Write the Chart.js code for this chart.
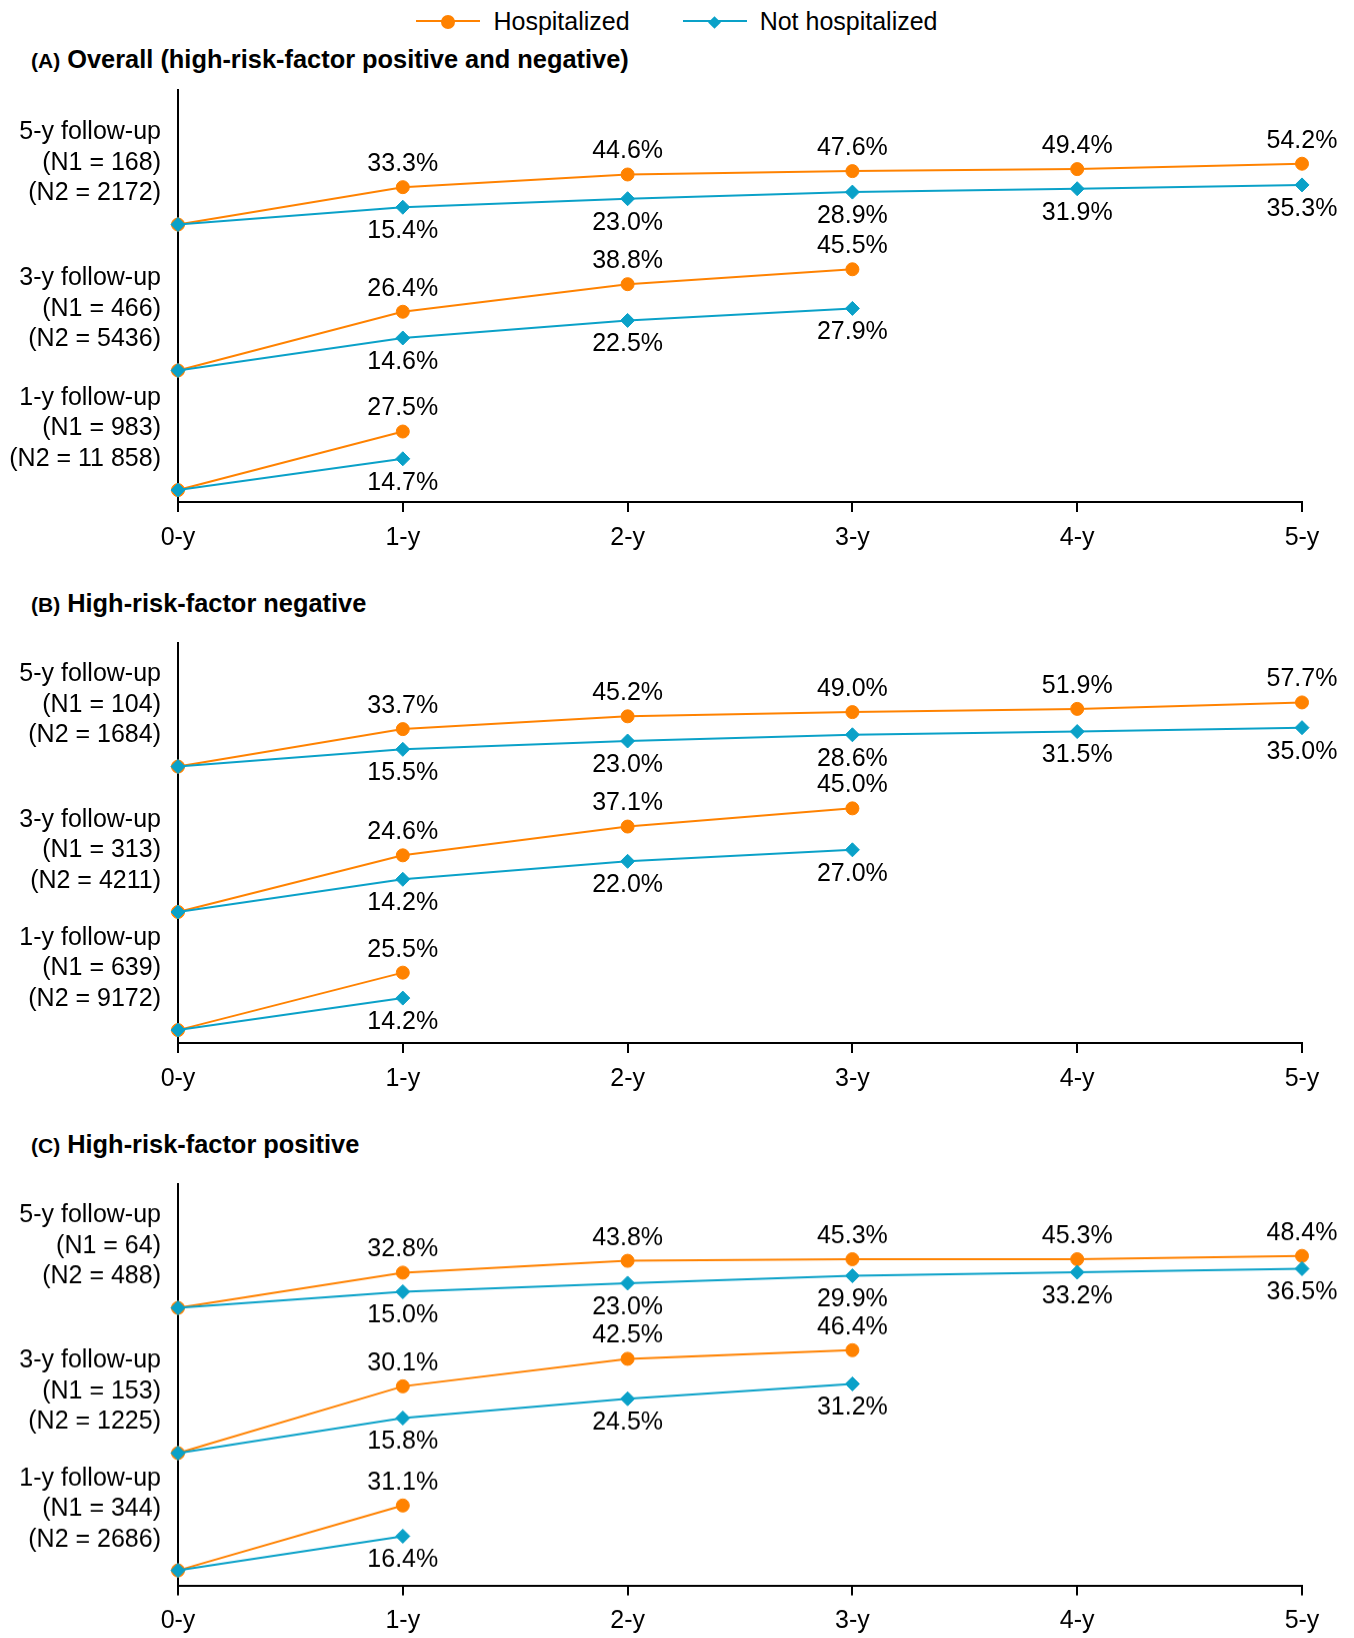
<!DOCTYPE html>
<html>
<head>
<meta charset="utf-8">
<title>Follow-up curves</title>
<script src="https://cdn.jsdelivr.net/npm/chart.js@4.4.1/dist/chart.umd.min.js"></script>
<style>
  html, body { margin: 0; padding: 0; background: #fff; }
  body { width: 1354px; height: 1638px; position: relative; overflow: hidden;
         font-family: 'Liberation Sans', Arial, Helvetica, sans-serif; color: #000; }
  #legend { position: absolute; left: 0; top: 4px; width: 1354px; height: 34px;
            display: flex; justify-content: center; align-items: center; font-size: 25px; }
  .item { display: flex; align-items: center; }
  .item + .item { margin-left: 53px; }
  .sym { position: relative; width: 64px; height: 20px; margin-right: 13px; }
  .sym .ln { position: absolute; left: 0; right: 0; top: 9px; height: 2px; }
  .sym .mk { position: absolute; left: 50%; top: 50%; }
  .title { position: absolute; left: 31px; font-weight: bold; font-size: 25.4px; line-height: 30px; white-space: nowrap; }
  .title .tag { font-size: 21px; }
  .panel { position: absolute; left: 0; width: 1354px; }
</style>
</head>
<body>
<div id="legend"></div>
<div class="title" id="tA" style="top:44px"></div>
<div class="title" id="tB" style="top:588px"></div>
<div class="title" id="tC" style="top:1129px"></div>
<div class="panel" id="pA"><canvas id="cA"></canvas></div>
<div class="panel" id="pB"><canvas id="cB"></canvas></div>
<div class="panel" id="pC"><canvas id="cC"></canvas></div>
<script>
// ---------------- DATA ----------------
const xLabels = ['0-y', '1-y', '2-y', '3-y', '4-y', '5-y'];
const seriesNames = ['Hospitalized', 'Not hospitalized'];
const groupNames = ['5-y follow-up', '3-y follow-up', '1-y follow-up'];

const panelTags = ['(A)', '(B)', '(C)'];
const panelTitles = ['Overall (high-risk-factor positive and negative)', 'High-risk-factor negative', 'High-risk-factor positive'];

// Panel A: overall
const A_N1 = ['168', '466', '983'];
const A_N2 = ['2172', '5436', '11 858'];
const A_hosp_5y = [0, 33.3, 44.6, 47.6, 49.4, 54.2];
const A_non_5y  = [0, 15.4, 23.0, 28.9, 31.9, 35.3];
const A_hosp_3y = [0, 26.4, 38.8, 45.5];
const A_non_3y  = [0, 14.6, 22.5, 27.9];
const A_hosp_1y = [0, 27.5];
const A_non_1y  = [0, 14.7];

// Panel B: high-risk-factor negative
const B_N1 = ['104', '313', '639'];
const B_N2 = ['1684', '4211', '9172'];
const B_hosp_5y = [0, 33.7, 45.2, 49.0, 51.9, 57.7];
const B_non_5y  = [0, 15.5, 23.0, 28.6, 31.5, 35.0];
const B_hosp_3y = [0, 24.6, 37.1, 45.0];
const B_non_3y  = [0, 14.2, 22.0, 27.0];
const B_hosp_1y = [0, 25.5];
const B_non_1y  = [0, 14.2];

// Panel C: high-risk-factor positive
const C_N1 = ['64', '153', '344'];
const C_N2 = ['488', '1225', '2686'];
const C_hosp_5y = [0, 32.8, 43.8, 45.3, 45.3, 48.4];
const C_non_5y  = [0, 15.0, 23.0, 29.9, 33.2, 36.5];
const C_hosp_3y = [0, 30.1, 42.5, 46.4];
const C_non_3y  = [0, 15.8, 24.5, 31.2];
const C_hosp_1y = [0, 31.1];
const C_non_1y  = [0, 16.4];

// ---------------- STYLE / LAYOUT ----------------
const ORANGE = '#FF8200';
const BLUE = '#0AA1C8';
const FONT = "'Liberation Sans', Arial, Helvetica, sans-serif";
const PLOT_LEFT = 178, PLOT_RIGHT = 1302, PAD_TOP = 5, X_AXIS_H = 62, PAD_BOTTOM = 8;
const LABEL_LINE_OFFSETS = [-92, -61.5, -31];   // group label lines relative to baseline
const ABOVE = -23, BELOW = 24;                  // value label offsets

// per-panel geometry (page pixels): plot top/bottom, group baselines, px per percent
const layouts = [
  { top: 87,  bottom: 502,   base: [222.5, 369.5, 490],    ppp: [1.13, 2.24, 2.145] },
  { top: 640, bottom: 1043,  base: [764.5, 911, 1030],     ppp: [1.12, 2.32, 2.27] },
  { top: 1181, bottom: 1584.5, base: [1305.5, 1451.5, 1569.5], ppp: [1.08, 2.23, 2.10] }
];

const panels = [
  { canvas: 'cA', box: 'pA', title: 'tA', N1: A_N1, N2: A_N2,
    groups: [[A_hosp_5y, A_non_5y], [A_hosp_3y, A_non_3y], [A_hosp_1y, A_non_1y]] },
  { canvas: 'cB', box: 'pB', title: 'tB', N1: B_N1, N2: B_N2,
    groups: [[B_hosp_5y, B_non_5y], [B_hosp_3y, B_non_3y], [B_hosp_1y, B_non_1y]] },
  { canvas: 'cC', box: 'pC', title: 'tC', N1: C_N1, N2: C_N2,
    groups: [[C_hosp_5y, C_non_5y], [C_hosp_3y, C_non_3y], [C_hosp_1y, C_non_1y]] }
];

// ---------------- LEGEND (HTML, from series names) ----------------
(function buildLegend() {
  const lg = document.getElementById('legend');
  seriesNames.forEach((name, i) => {
    const col = i === 0 ? ORANGE : BLUE;
    const item = document.createElement('div');
    item.className = 'item';
    const sym = document.createElement('div');
    sym.className = 'sym';
    const ln = document.createElement('div');
    ln.className = 'ln'; ln.style.background = col;
    const mk = document.createElement('div');
    mk.className = 'mk';
    if (i === 0) {
      Object.assign(mk.style, { width: '14px', height: '14px', marginLeft: '-7px', marginTop: '-6px', borderRadius: '50%', background: col });
    } else {
      Object.assign(mk.style, { width: '9px', height: '9px', marginLeft: '-4.5px', marginTop: '-3.5px', transform: 'rotate(45deg)', background: col });
    }
    sym.appendChild(ln); sym.appendChild(mk);
    const tx = document.createElement('span');
    tx.textContent = name;
    item.appendChild(sym); item.appendChild(tx);
    lg.appendChild(item);
  });
})();

// ---------------- ANNOTATION PLUGIN ----------------
const annotatePlugin = {
  id: 'annotate',
  afterDatasetsDraw(chart, args, opts) {
    const ctx = chart.ctx;
    ctx.save();
    ctx.font = '25px ' + FONT;
    ctx.fillStyle = '#000';
    ctx.textBaseline = 'middle';
    ctx.textAlign = 'center';
    chart.data.datasets.forEach((ds, i) => {
      const meta = chart.getDatasetMeta(i);
      meta.data.forEach((pt, j) => {
        if (j === 0) return;
        const off = ds.labelSide === 'above' ? ABOVE : BELOW;
        ctx.fillText(ds.data[j].toFixed(1) + '%', pt.x, pt.y + off);
      });
    });
    ctx.textAlign = 'right';
    (opts.groups || []).forEach(g => {
      const y0 = chart.scales[g.axis].getPixelForValue(0);
      g.lines.forEach((t, k) => ctx.fillText(t, chart.chartArea.left - 17, y0 + LABEL_LINE_OFFSETS[k]));
    });
    ctx.restore();
  }
};

// ---------------- CHARTS ----------------
panels.forEach((p, pi) => {
  const L = layouts[pi];
  const t = document.getElementById(p.title);
  t.innerHTML = '<span class="tag"></span> <span class="main"></span>';
  t.querySelector('.tag').textContent = panelTags[pi];
  t.querySelector('.main').textContent = panelTitles[pi];

  const box = document.getElementById(p.box);
  const canvasTop = L.top - PAD_TOP;
  const h = (L.bottom - L.top) + PAD_TOP + X_AXIS_H + PAD_BOTTOM;
  box.style.top = canvasTop + 'px';
  box.style.height = h + 'px';

  const scales = {
    x: {
      type: 'category', labels: xLabels, offset: false,
      grid: { display: true, drawOnChartArea: false, drawTicks: true, tickLength: 10, color: '#000', lineWidth: 2 },
      border: { display: true, color: '#000', width: 2 },
      ticks: { color: '#000', font: { size: 25, family: FONT }, padding: 11, maxRotation: 0, autoSkip: false },
      afterFit: s => { s.height = X_AXIS_H; }
    }
  };
  const datasets = [];
  const groupLabels = [];
  p.groups.forEach((g, gi) => {
    const id = 'y' + gi;
    const s = L.ppp[gi];
    scales[id] = {
      type: 'linear', position: 'left', display: gi === 0,
      min: -(L.bottom - L.base[gi]) / s,
      max: (L.base[gi] - L.top) / s,
      grid: { display: false, drawTicks: false },
      ticks: { display: false },
      border: { display: true, color: '#000', width: 2 },
      afterFit: sc => { sc.width = 0; }
    };
    datasets.push({
      label: seriesNames[0], data: g[0], yAxisID: id, labelSide: 'above',
      borderColor: ORANGE, backgroundColor: ORANGE, borderWidth: 2,
      pointStyle: 'circle', pointRadius: 6.5, pointBorderWidth: 1,
      pointBackgroundColor: ORANGE, pointBorderColor: ORANGE, order: 1, tension: 0
    });
    datasets.push({
      label: seriesNames[1], data: g[1], yAxisID: id, labelSide: 'below',
      borderColor: BLUE, backgroundColor: BLUE, borderWidth: 2,
      pointStyle: 'rectRot', pointRadius: 7, pointBorderWidth: 1,
      pointBackgroundColor: BLUE, pointBorderColor: BLUE, order: 0, tension: 0
    });
    groupLabels.push({ axis: id, lines: [groupNames[gi], '(N1 = ' + p.N1[gi] + ')', '(N2 = ' + p.N2[gi] + ')'] });
  });

  new Chart(document.getElementById(p.canvas), {
    type: 'line',
    data: { labels: xLabels, datasets },
    options: {
      responsive: true, maintainAspectRatio: false, animation: false,
      devicePixelRatio: 1,
      layout: { padding: { left: PLOT_LEFT, right: 1354 - PLOT_RIGHT, top: PAD_TOP, bottom: PAD_BOTTOM } },
      plugins: { legend: { display: false }, title: { display: false }, tooltip: { enabled: false },
                 annotate: { groups: groupLabels } },
      scales,
      clip: false
    },
    plugins: [annotatePlugin]
  });
});
</script>
</body>
</html>
